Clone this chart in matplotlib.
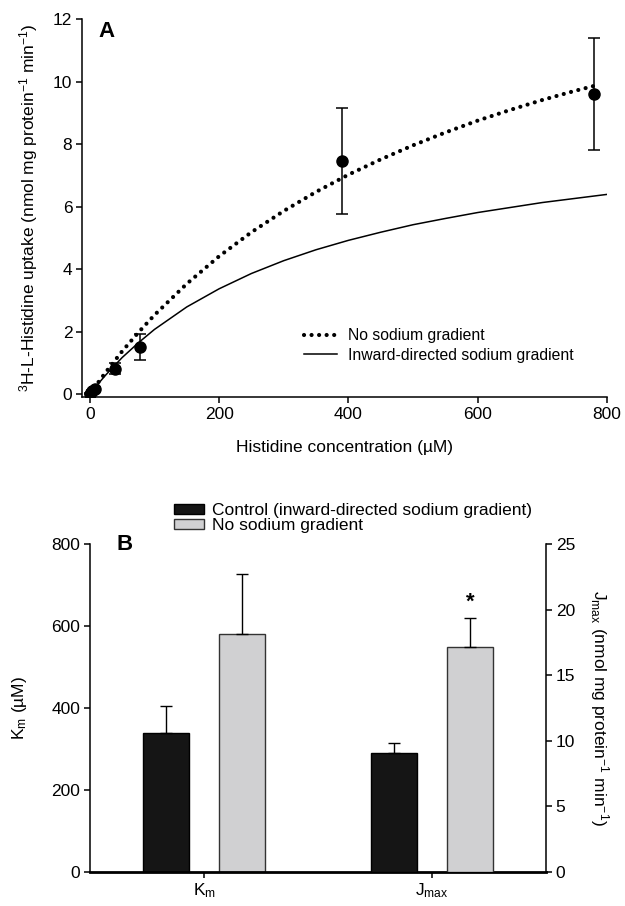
import matplotlib
matplotlib.use("Agg")
import matplotlib.pyplot as plt
from matplotlib.patches import Patch

plt.rcParams['font.family'] = ['Liberation Sans', 'DejaVu Sans']
plt.rcParams['mathtext.fontset'] = 'custom'
plt.rcParams['mathtext.rm'] = 'Liberation Sans'
plt.rcParams['mathtext.it'] = 'Liberation Sans:italic'
plt.rcParams['mathtext.bf'] = 'Liberation Sans:bold'

# ---------------- Panel A data ----------------
conc = [0.78, 3.9, 7.8, 39, 78, 390, 780]
uptake = [0.02, 0.09, 0.18, 0.82, 1.51, 7.45, 9.6]
uptake_err = [0.02, 0.04, 0.05, 0.17, 0.43, 1.7, 1.8]

curve_x_nogradient = [0, 10, 25, 50, 75, 100, 150, 200, 250, 300, 350, 400,
                      450, 500, 550, 600, 650, 700, 750, 780]
curve_y_nogradient = [0, 0.29, 0.71, 1.37, 1.97, 2.53, 3.53, 4.41, 5.18, 5.86,
                      6.47, 7.02, 7.51, 7.96, 8.37, 8.75, 9.09, 9.41, 9.70, 9.86]

curve_x_inward = [0, 10, 25, 50, 75, 100, 150, 200, 250, 300, 350, 400,
                  450, 500, 550, 600, 650, 700, 750, 800]
curve_y_inward = [0, 0.26, 0.62, 1.17, 1.64, 2.07, 2.79, 3.37, 3.86, 4.27,
                  4.62, 4.92, 5.18, 5.42, 5.62, 5.81, 5.97, 6.13, 6.26, 6.39]

xticks_a = [0, 200, 400, 600, 800]
yticks_a = [0, 2, 4, 6, 8, 10, 12]

# ---------------- Panel B data ----------------
categories = ['K$_\\mathrm{m}$', 'J$_\\mathrm{max}$']
km_values = [340, 580]          # control, no sodium gradient (µM)
km_errors = [65, 147]
jmax_values = [9.07, 17.12]     # control, no sodium gradient
jmax_errors = [0.79, 2.21]
series_labels = ['Control (inward-directed sodium gradient)', 'No sodium gradient']
yticks_km = [0, 200, 400, 600, 800]
yticks_jmax = [0, 5, 10, 15, 20, 25]

W, H = 625, 906
fig = plt.figure(figsize=(W / 100, H / 100), dpi=100)

def frac(l, t, r, b):
    return [l / W, 1 - b / H, (r - l) / W, (b - t) / H]

FS = 12.5

# ---------------- Panel A ----------------
axA = fig.add_axes(frac(82, 19, 607, 397))
axA.plot(curve_x_nogradient, curve_y_nogradient, color='black', lw=3.0,
         linestyle=(0, (0.01, 1.8)), dash_capstyle='round',
         label='No sodium gradient')
axA.plot(curve_x_inward, curve_y_inward, color='black', lw=1.1,
         label='Inward-directed sodium gradient')
axA.errorbar(conc, uptake, yerr=uptake_err, fmt='o', color='black',
             markersize=8, capsize=4, elinewidth=1.1, capthick=1.1,
             zorder=5)
axA.set_xlim(-12, 800)
axA.set_ylim(-0.09, 12)
axA.set_xticks(xticks_a)
axA.set_yticks(yticks_a)
axA.spines['top'].set_visible(False)
axA.spines['right'].set_visible(False)
for s in ['left', 'bottom']:
    axA.spines[s].set_linewidth(1.1)
axA.tick_params(direction='out', length=4, width=1.1, labelsize=FS, pad=3)
axA.set_xlabel('Histidine concentration (µM)', fontsize=FS, labelpad=13)
axA.set_ylabel('$^{3}$H-L-Histidine uptake (nmol mg protein$^{-1}$ min$^{-1}$)',
               fontsize=FS, labelpad=9)
axA.text(0.032, 0.995, 'A', transform=axA.transAxes, fontsize=16,
         fontweight='bold', va='top', ha='left')
axA.legend(loc='upper left', bbox_to_anchor=(0.423, 0.182),
           frameon=False, fontsize=11.3, handlelength=2.1,
           handletextpad=0.7, labelspacing=0.3, borderaxespad=0,
           borderpad=0)

# ---------------- Panel B ----------------
axB = fig.add_axes(frac(90, 544, 546, 872))
axB2 = axB.twinx()
offset = 0.167
width = 0.2
bar_colors = ['#151515', '#d0d0d2']
edge_colors = ['black', '#333333']
err_kw = dict(ecolor='black', elinewidth=1.0, capsize=4, capthick=1.0)

for i in range(2):
    axB.bar(0 + (i * 2 - 1) * offset, km_values[i], width=width,
            color=bar_colors[i], edgecolor=edge_colors[i], linewidth=1.0,
            yerr=[[0], [km_errors[i]]], error_kw=err_kw)
    axB2.bar(1 + (i * 2 - 1) * offset, jmax_values[i], width=width,
             color=bar_colors[i], edgecolor=edge_colors[i], linewidth=1.0,
             yerr=[[0], [jmax_errors[i]]], error_kw=err_kw)

axB2.text(1 + offset, jmax_values[1] + jmax_errors[1] + 0.45, '*',
          ha='center', va='bottom', fontsize=16, fontweight='bold')

axB.set_xlim(-0.5, 1.5)
axB.set_ylim(0, 800)
axB2.set_ylim(0, 25)
axB.set_xticks([0, 1])
axB.set_xticklabels(categories, fontsize=FS)
axB.set_yticks(yticks_km)
axB2.set_yticks(yticks_jmax)
axB.spines['top'].set_visible(False)
axB2.spines['top'].set_visible(False)
axB.spines['left'].set_linewidth(1.1)
axB2.spines['right'].set_linewidth(1.1)
axB.spines['bottom'].set_linewidth(2.0)
axB2.spines['bottom'].set_visible(False)
axB2.spines['left'].set_visible(False)
axB.spines['right'].set_visible(False)
axB.tick_params(direction='out', length=4, width=1.1, labelsize=FS, pad=3)
axB2.tick_params(direction='out', length=4, width=1.1, labelsize=FS, pad=3)
axB.set_ylabel('K$_\\mathrm{m}$ (µM)', fontsize=FS, labelpad=16)
axB2.set_ylabel('J$_\\mathrm{max}$ (nmol mg protein$^{-1}$ min$^{-1}$)',
                fontsize=FS, rotation=270, labelpad=26)
axB.text(0.058, 1.0, 'B', transform=axB.transAxes, fontsize=16,
         fontweight='bold', va='center', ha='left')

handles = [Patch(facecolor=bar_colors[i], edgecolor=edge_colors[i],
                 linewidth=1.0) for i in range(2)]
axB.legend(handles, series_labels, loc='upper left',
           bbox_to_anchor=(174 / W, 1 - 503 / H), bbox_transform=fig.transFigure,
           frameon=False, fontsize=FS, handlelength=1.75, handleheight=0.55,
           handletextpad=0.45, labelspacing=0.0, borderaxespad=0, borderpad=0)

fig.savefig('out.png', dpi=100)
